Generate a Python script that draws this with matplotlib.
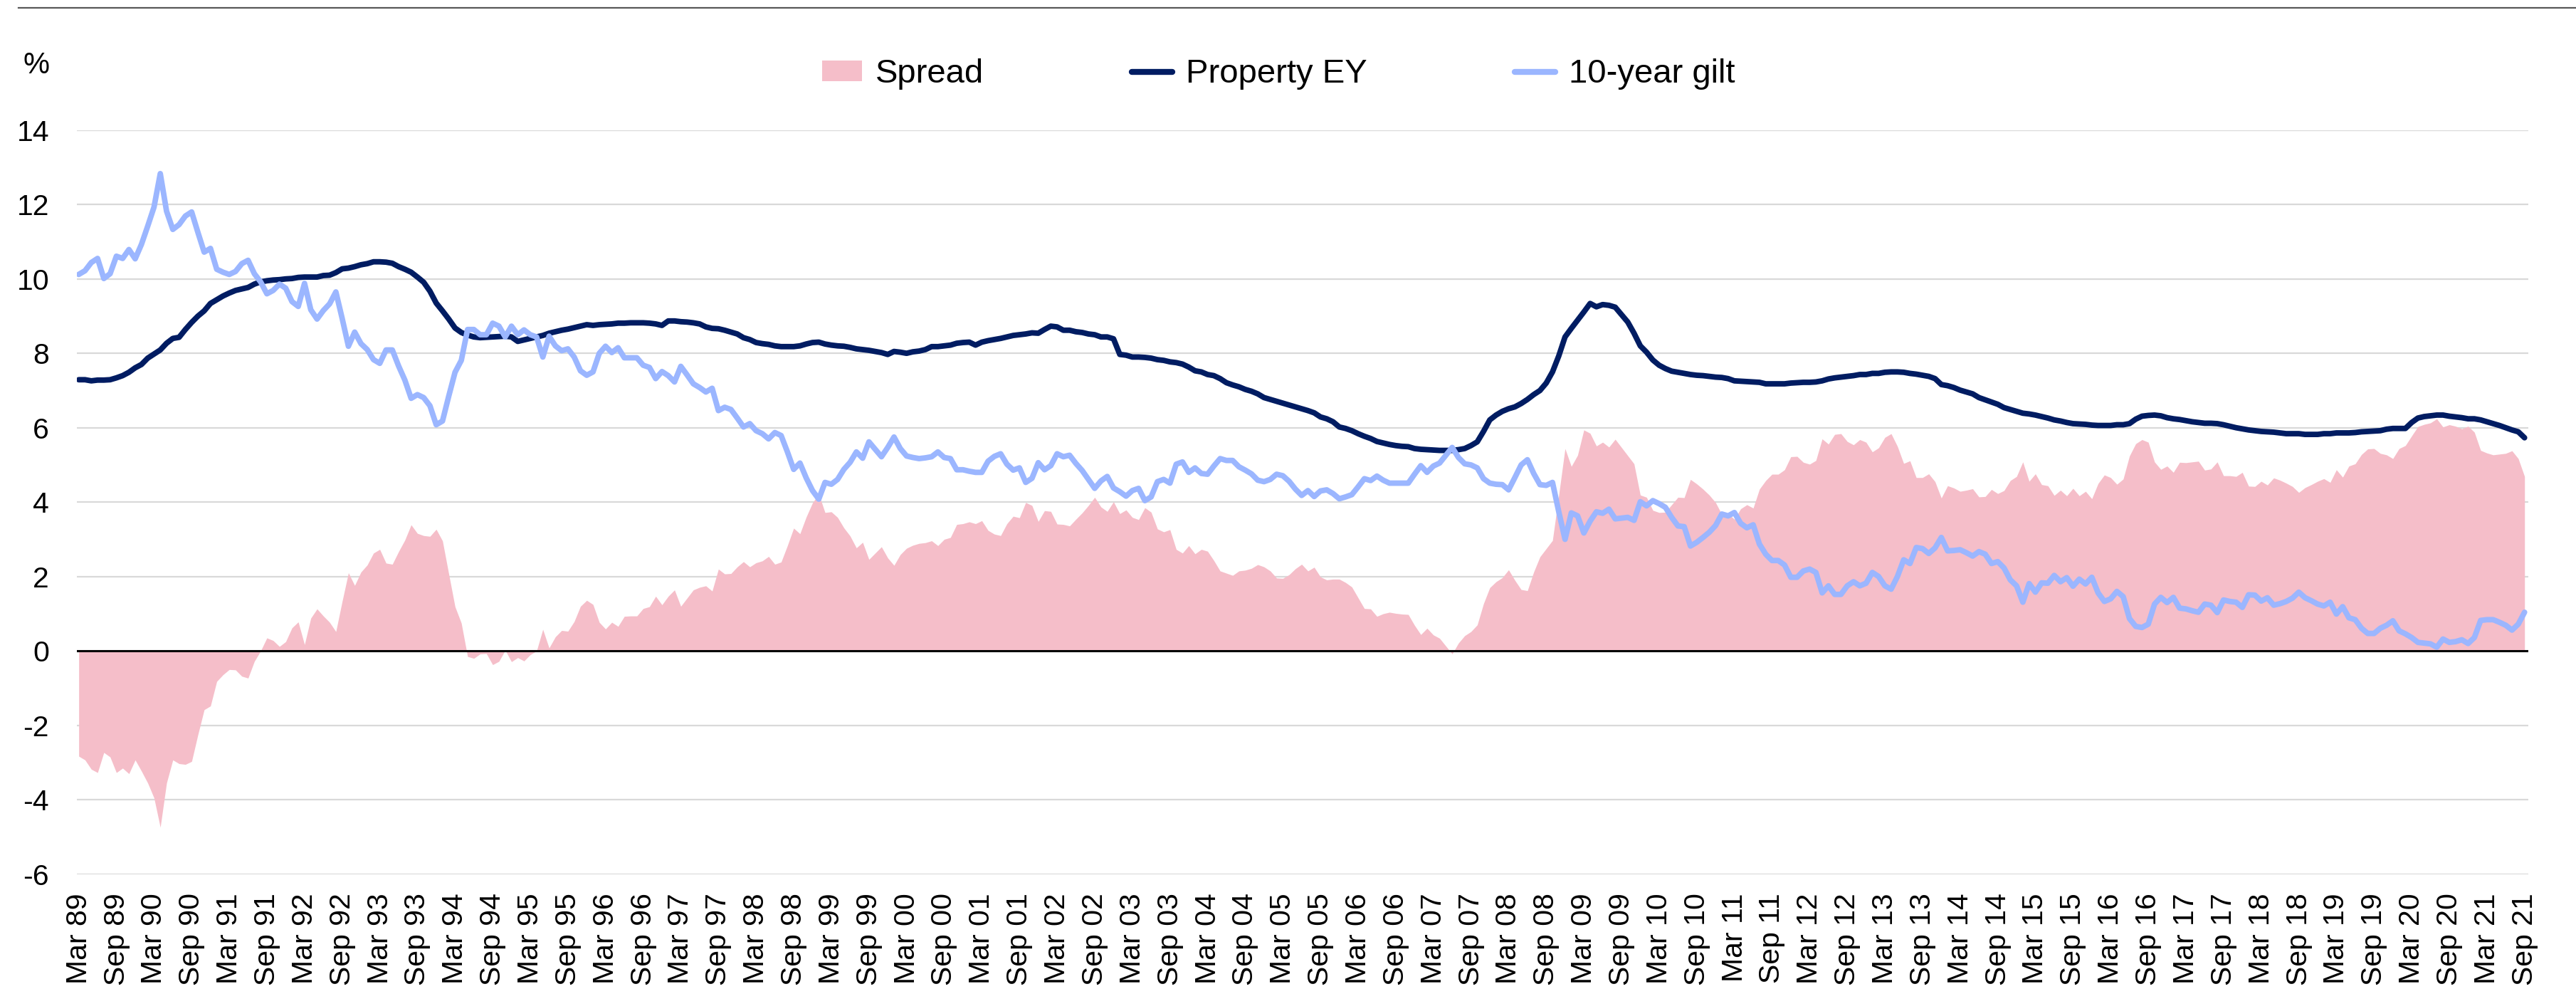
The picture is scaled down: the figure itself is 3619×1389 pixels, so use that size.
import matplotlib
matplotlib.use("Agg")
import matplotlib.pyplot as plt
from matplotlib.lines import Line2D
from matplotlib.patches import Patch
import numpy as np

plt.rcParams['font.family'] = ['Liberation Sans', 'DejaVu Sans']

# Monthly data, Mar 1989 .. Sep 2021 (391 months)
property_ey = [
    7.29, 7.29, 7.26, 7.28, 7.28, 7.29, 7.34, 7.40, 7.49, 7.61, 7.70, 7.87, 7.98, 8.09, 8.27, 8.40, 8.43, 8.64, 8.83, 9.00,
    9.14, 9.34, 9.44, 9.54, 9.62, 9.69, 9.73, 9.77, 9.86, 9.92, 9.95, 9.97, 9.98, 10.00, 10.01, 10.04, 10.05, 10.05, 10.05, 10.09,
    10.10, 10.17, 10.27, 10.29, 10.33, 10.38, 10.41, 10.46, 10.46, 10.45, 10.42, 10.33, 10.26, 10.18, 10.05, 9.91, 9.67, 9.35, 9.14, 8.92,
    8.68, 8.56, 8.49, 8.44, 8.42, 8.43, 8.44, 8.45, 8.46, 8.44, 8.32, 8.36, 8.40, 8.44, 8.48, 8.54, 8.58, 8.62, 8.65, 8.69,
    8.73, 8.77, 8.75, 8.77, 8.78, 8.79, 8.81, 8.81, 8.82, 8.82, 8.82, 8.81, 8.79, 8.75, 8.87, 8.87, 8.85, 8.84, 8.82, 8.79,
    8.71, 8.67, 8.66, 8.62, 8.57, 8.52, 8.42, 8.37, 8.29, 8.26, 8.24, 8.20, 8.18, 8.18, 8.18, 8.20, 8.25, 8.29, 8.30, 8.25,
    8.22, 8.20, 8.19, 8.16, 8.12, 8.10, 8.08, 8.05, 8.02, 7.97, 8.05, 8.03, 8.00, 8.04, 8.06, 8.10, 8.18, 8.18, 8.20, 8.22,
    8.27, 8.29, 8.30, 8.22, 8.30, 8.34, 8.37, 8.40, 8.44, 8.48, 8.50, 8.52, 8.55, 8.54, 8.64, 8.73, 8.71, 8.62, 8.62, 8.58,
    8.56, 8.52, 8.50, 8.44, 8.44, 8.39, 7.97, 7.95, 7.90, 7.90, 7.89, 7.87, 7.83, 7.81, 7.77, 7.75, 7.71, 7.63, 7.53, 7.50,
    7.43, 7.40, 7.32, 7.21, 7.15, 7.10, 7.03, 6.98, 6.91, 6.81, 6.76, 6.71, 6.66, 6.61, 6.56, 6.51, 6.46, 6.40, 6.29, 6.24,
    6.16, 6.02, 5.98, 5.92, 5.84, 5.77, 5.71, 5.63, 5.59, 5.55, 5.52, 5.50, 5.49, 5.44, 5.42, 5.41, 5.40, 5.39, 5.39, 5.39,
    5.41, 5.44, 5.52, 5.62, 5.90, 6.21, 6.34, 6.44, 6.51, 6.56, 6.65, 6.76, 6.89, 7.00, 7.20, 7.50, 7.93, 8.44, 8.67, 8.89,
    9.11, 9.34, 9.25, 9.31, 9.29, 9.24, 9.04, 8.84, 8.54, 8.20, 8.03, 7.82, 7.68, 7.59, 7.52, 7.49, 7.46, 7.43, 7.41, 7.40,
    7.38, 7.36, 7.35, 7.32, 7.26, 7.25, 7.24, 7.23, 7.22, 7.18, 7.18, 7.18, 7.18, 7.20, 7.21, 7.22, 7.22, 7.23, 7.26, 7.31,
    7.34, 7.36, 7.38, 7.40, 7.43, 7.43, 7.46, 7.46, 7.49, 7.50, 7.50, 7.49, 7.46, 7.44, 7.41, 7.38, 7.32, 7.16, 7.13, 7.08,
    7.01, 6.96, 6.91, 6.81, 6.75, 6.69, 6.63, 6.54, 6.49, 6.44, 6.39, 6.37, 6.34, 6.30, 6.26, 6.21, 6.18, 6.14, 6.11, 6.10,
    6.09, 6.07, 6.06, 6.06, 6.06, 6.08, 6.08, 6.11, 6.23, 6.31, 6.33, 6.34, 6.32, 6.27, 6.24, 6.22, 6.19, 6.16, 6.14, 6.12,
    6.12, 6.11, 6.08, 6.04, 6.00, 5.97, 5.94, 5.92, 5.90, 5.89, 5.88, 5.86, 5.84, 5.84, 5.84, 5.82, 5.82, 5.82, 5.84, 5.84,
    5.86, 5.86, 5.86, 5.87, 5.89, 5.90, 5.91, 5.92, 5.96, 5.98, 5.98, 5.98, 6.14, 6.26, 6.30, 6.32, 6.34, 6.34, 6.31, 6.29,
    6.27, 6.24, 6.24, 6.21, 6.16, 6.11, 6.06, 6.00, 5.94, 5.89, 5.73,
]

gilt_10y = [
    10.12, 10.22, 10.44, 10.55, 10.01, 10.14, 10.61, 10.55, 10.79, 10.54, 10.93, 11.42, 11.93, 12.83, 11.82, 11.33, 11.46, 11.69, 11.80, 11.25,
    10.72, 10.82, 10.26, 10.18, 10.12, 10.20, 10.41, 10.50, 10.14, 9.92, 9.60, 9.69, 9.86, 9.75, 9.39, 9.26, 9.88, 9.17, 8.92, 9.15,
    9.33, 9.65, 8.94, 8.19, 8.57, 8.26, 8.10, 7.83, 7.73, 8.09, 8.09, 7.66, 7.28, 6.79, 6.89, 6.81, 6.59, 6.08, 6.18, 6.85,
    7.49, 7.81, 8.64, 8.64, 8.50, 8.50, 8.81, 8.73, 8.44, 8.73, 8.50, 8.63, 8.50, 8.44, 7.90, 8.46, 8.20, 8.07, 8.12, 7.90,
    7.53, 7.41, 7.50, 8.00, 8.19, 8.02, 8.15, 7.88, 7.88, 7.88, 7.68, 7.62, 7.32, 7.51, 7.40, 7.23, 7.65, 7.42, 7.18, 7.08,
    6.96, 7.06, 6.46, 6.55, 6.49, 6.26, 6.02, 6.11, 5.92, 5.84, 5.70, 5.87, 5.79, 5.35, 4.88, 5.05, 4.65, 4.31, 4.08, 4.53,
    4.48, 4.61, 4.88, 5.07, 5.35, 5.18, 5.62, 5.42, 5.22, 5.47, 5.75, 5.44, 5.24, 5.20, 5.17, 5.19, 5.22, 5.35, 5.20, 5.17,
    4.87, 4.87, 4.83, 4.80, 4.80, 5.10, 5.23, 5.30, 5.02, 4.86, 4.92, 4.53, 4.64, 5.06, 4.87, 4.98, 5.30, 5.22, 5.26, 5.04,
    4.85, 4.61, 4.37, 4.57, 4.69, 4.38, 4.28, 4.16, 4.31, 4.37, 4.04, 4.14, 4.55, 4.61, 4.51, 5.02, 5.08, 4.80, 4.92, 4.77,
    4.75, 4.97, 5.17, 5.12, 5.12, 4.95, 4.86, 4.76, 4.59, 4.55, 4.61, 4.75, 4.71, 4.56, 4.35, 4.18, 4.31, 4.15, 4.30, 4.33,
    4.23, 4.09, 4.14, 4.20, 4.41, 4.63, 4.58, 4.70, 4.59, 4.51, 4.51, 4.51, 4.51, 4.75, 4.98, 4.80, 4.97, 5.05, 5.26, 5.47,
    5.20, 5.03, 5.00, 4.92, 4.63, 4.51, 4.48, 4.47, 4.33, 4.66, 5.00, 5.14, 4.77, 4.47, 4.45, 4.53, 3.74, 3.00, 3.71, 3.63,
    3.17, 3.49, 3.74, 3.70, 3.81, 3.55, 3.57, 3.59, 3.51, 4.01, 3.90, 4.04, 3.96, 3.86, 3.59, 3.36, 3.34, 2.82, 2.92, 3.05,
    3.19, 3.37, 3.68, 3.63, 3.72, 3.43, 3.31, 3.39, 2.87, 2.60, 2.43, 2.43, 2.31, 1.98, 1.98, 2.15, 2.20, 2.11, 1.56, 1.75,
    1.52, 1.52, 1.75, 1.86, 1.75, 1.82, 2.11, 2.00, 1.75, 1.66, 2.00, 2.45, 2.35, 2.78, 2.75, 2.62, 2.77, 3.05, 2.69, 2.70,
    2.72, 2.64, 2.55, 2.67, 2.60, 2.35, 2.40, 2.23, 1.91, 1.75, 1.31, 1.81, 1.58, 1.83, 1.82, 2.03, 1.86, 1.97, 1.74, 1.93,
    1.80, 1.98, 1.56, 1.33, 1.40, 1.60, 1.46, 0.87, 0.66, 0.63, 0.72, 1.26, 1.44, 1.30, 1.44, 1.15, 1.13, 1.08, 1.04, 1.26,
    1.23, 1.03, 1.37, 1.33, 1.31, 1.17, 1.51, 1.50, 1.34, 1.43, 1.23, 1.27, 1.33, 1.42, 1.58, 1.43, 1.35, 1.26, 1.21, 1.31,
    0.99, 1.19, 0.89, 0.84, 0.61, 0.47, 0.47, 0.61, 0.69, 0.81, 0.54, 0.46, 0.36, 0.23, 0.21, 0.19, 0.10, 0.32, 0.23, 0.25,
    0.30, 0.20, 0.36, 0.82, 0.84, 0.84, 0.77, 0.69, 0.56, 0.72, 1.04,
]

series_labels = ["Spread", "Property EY", "10-year gilt"]
tick_labels = [f"{mon} {yr % 100:02d}" for yr in range(1989, 2022) for mon in ("Mar", "Sep")]
y_ticks = [-6, -4, -2, 0, 2, 4, 6, 8, 10, 12, 14]

ey = np.array(property_ey)
gilt = np.array(gilt_10y)
spread = ey - gilt
months = np.arange(len(ey))
tick_pos = np.arange(0, len(ey), 6)

C_EY = "#001C62"
C_GILT = "#9BB6FF"
C_SPREAD = "#F5BEC9"

W, H = 3619, 1389
fig = plt.figure(figsize=(W / 100, H / 100), dpi=100)
ax = fig.add_axes([108 / W, (H - 1227.7) / H, (3552 - 108) / W, (1227.7 - 182.7) / H])

ax.fill_between(months, 0, spread, color=C_SPREAD, linewidth=0, zorder=1)
ax.axhline(0, color="black", linewidth=2.2, zorder=2)
ax.plot(months, ey, color=C_EY, linewidth=5.6, zorder=3, solid_capstyle="round", solid_joinstyle="round")
ax.plot(months, gilt, color=C_GILT, linewidth=5.6, zorder=4, solid_capstyle="round", solid_joinstyle="round")

ax.set_xlim(-0.3, len(ey) - 1 + 0.6)
ax.set_ylim(-6, 14)
ax.set_yticks(y_ticks)
ax.set_yticklabels([str(v) for v in y_ticks])
ax.set_xticks(tick_pos)
ax.set_xticklabels(tick_labels[:len(tick_pos)], rotation=90)
ax.tick_params(axis="both", length=0, labelsize=29.5, colors="black")
ax.tick_params(axis="x", pad=19)
ax.tick_params(axis="y", pad=28)
ax.yaxis.grid(True, color="#D9D9D9", linewidth=1.6, zorder=0)
ax.set_axisbelow(True)
for s in ax.spines.values():
    s.set_visible(False)

fig.text(51 / W, (H - 92) / H, "%", fontsize=30, ha="center", va="center")

fig.add_artist(Line2D([26 / W, 1.0], [(H - 10.7) / H] * 2, color="#595959", linewidth=1.6))

handles = [
    Patch(facecolor=C_SPREAD, edgecolor="none"),
    Line2D([0], [0], color=C_EY, linewidth=6.0, solid_capstyle="round"),
    Line2D([0], [0], color=C_GILT, linewidth=6.0, solid_capstyle="round"),
]
fig.legend(handles, series_labels, loc="center", bbox_to_anchor=(1796 / W, (H - 104) / H),
           ncol=3, frameon=False, fontsize=34, handlelength=1.2, handleheight=0.55,
           handletextpad=0.4, columnspacing=4.4)

fig.savefig("out.png", dpi=100)
